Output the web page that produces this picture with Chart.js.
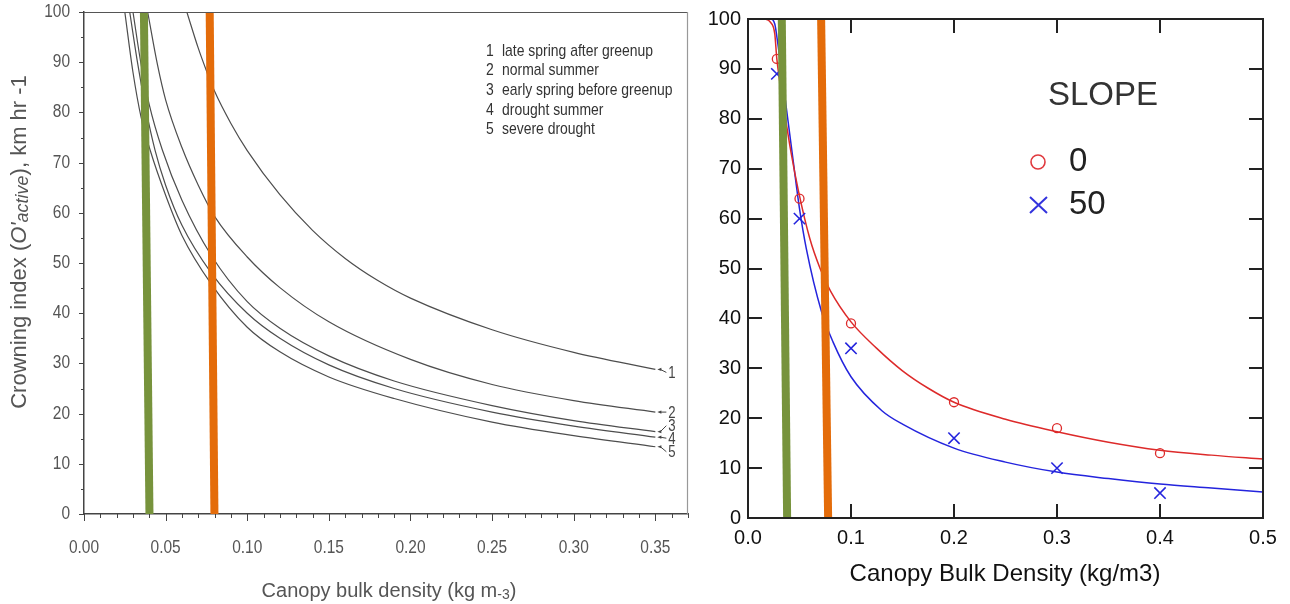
<!DOCTYPE html>
<html>
<head>
<meta charset="utf-8">
<script src="https://cdn.jsdelivr.net/npm/chart.js@4.4.1/dist/chart.umd.min.js"></script>
<style>
  html, body { margin: 0; padding: 0; background: #fff; }
  #wrap { position: relative; width: 1290px; height: 604px; overflow: hidden; }
  canvas { position: absolute; top: 0; }
  #left { left: 0; }
  #right { left: 700px; }
</style>
</head>
<body>
<div id="wrap">
  <canvas id="left" width="700" height="604"></canvas>
  <canvas id="right" width="590" height="604"></canvas>
</div>
<script>
// --- left panel: crowning index by fuel moisture scenario ---
const conditions = ['late spring after greenup', 'normal summer', 'early spring before greenup', 'drought summer', 'severe drought'];

const cbd1 = [0.063, 0.07, 0.075, 0.08, 0.09, 0.10, 0.12, 0.14, 0.16, 0.18, 0.20, 0.25, 0.30, 0.35];
const ci1  = [100, 92.8, 88.3, 84.2, 77.8, 72.4, 63.6, 56.5, 50.9, 46.5, 43, 36.7, 32.2, 28.8];
const cbd2 = [0.039, 0.045, 0.05, 0.06, 0.07, 0.08, 0.10, 0.12, 0.15, 0.20, 0.25, 0.30, 0.35];
const ci2  = [100, 89.5, 82.5, 73, 65.5, 59.3, 51.2, 45.1, 38.3, 30.8, 25.8, 22.6, 20.3];
const cbd3 = [0.030, 0.035, 0.04, 0.048, 0.06, 0.078, 0.10, 0.12, 0.15, 0.19, 0.25, 0.30, 0.35];
const ci3  = [100, 89.5, 81.5, 72.5, 62.5, 51.5, 42.3, 37, 31.5, 26.5, 21.6, 18.6, 16.4];
const cbd4 = [0.028, 0.033, 0.038, 0.0435, 0.05, 0.06, 0.078, 0.10, 0.12, 0.15, 0.19, 0.25, 0.30, 0.35];
const ci4  = [100, 89.5, 80.5, 72.5, 65.5, 57.5, 48, 40, 35, 29.7, 25, 20.3, 17.5, 15.3];
const cbd5 = [0.025, 0.03, 0.035, 0.0405, 0.05, 0.06, 0.078, 0.10, 0.12, 0.15, 0.19, 0.25, 0.30, 0.35];
const ci5  = [100, 88, 79, 72.5, 63.5, 55.5, 45.8, 37.2, 32.3, 27.3, 23, 18.3, 15.6, 13.4];

// the two marker lines drawn over the curves
const greenLeftX  = [0.0367, 0.0401];
const orangeLeftX = [0.0770, 0.0799];
const markerY = [100, 0];

const leftXTicks = [0, 0.05, 0.10, 0.15, 0.20, 0.25, 0.30, 0.35];
const leftYTicks = [0, 10, 20, 30, 40, 50, 60, 70, 80, 90, 100];

// --- right panel: observed and fitted values for two slopes ---
const slopeLabels = ['0', '50'];
const obsCbd     = [0.028, 0.05, 0.1, 0.2, 0.3, 0.4];
const obsSlope0  = [92, 64, 39, 23.2, 18, 13];
const obsSlope50 = [89, 60, 34, 16, 10, 5];

const fitCbd0 = [0, 0.015, 0.022, 0.026, 0.028, 0.035, 0.042, 0.049, 0.06, 0.07, 0.08, 0.1, 0.125, 0.15, 0.175, 0.2, 0.25, 0.3, 0.35, 0.4, 0.45, 0.5];
const fitCi0  = [100, 100, 99.3, 97, 92, 82, 73, 65.5, 56, 50, 45.5, 39.3, 34, 29.5, 26, 23.2, 19.8, 17.3, 15.2, 13.6, 12.6, 11.8];
const fitCbd50 = [0, 0.022, 0.026, 0.029, 0.033, 0.0367, 0.0436, 0.05, 0.0566, 0.0712, 0.0825, 0.1, 0.13, 0.15, 0.2, 0.25, 0.3, 0.35, 0.4, 0.45, 0.5];
const fitCi50  = [100, 100, 99, 95, 89, 83, 72, 62, 54, 41.5, 35.3, 28.3, 21.5, 18.8, 14, 11.2, 9.2, 7.9, 6.8, 6, 5.2];

const greenRightX  = [0.0328, 0.038];
const orangeRightX = [0.071, 0.0778];

const rightXTicks = [0, 0.1, 0.2, 0.3, 0.4, 0.5];
const rightYTicks = [0, 10, 20, 30, 40, 50, 60, 70, 80, 90, 100];

const REG = "'Liberation Sans', Arial, sans-serif";
const GREEN = '#77933c';
const ORANGE = '#e46c0a';

const pts = (xs, ys) => xs.map((x, i) => ({ x: x, y: ys[i] }));

function markerLine(xs, color) {
  return { data: pts(xs, markerY), showLine: true, borderColor: color, borderWidth: 8,
           pointRadius: 0, borderCapStyle: 'butt', order: 0 };
}

// condensed text (the left figure uses a narrow face)
function narrowText(ctx, text, x, y, align, sx) {
  ctx.save();
  ctx.translate(x, y);
  ctx.scale(sx || 0.82, 1);
  ctx.textAlign = align;
  ctx.fillText(text, 0, 0);
  ctx.restore();
}

// draws a run of text pieces with different fonts, centred on x
function drawPieces(ctx, pieces, cx, baseY) {
  let total = 0;
  pieces.forEach(p => { ctx.font = p.font; total += ctx.measureText(p.text).width; });
  let x = cx - total / 2;
  ctx.textAlign = 'left';
  ctx.textBaseline = 'alphabetic';
  pieces.forEach(p => {
    ctx.font = p.font;
    ctx.fillText(p.text, x, baseY + (p.dy || 0));
    x += ctx.measureText(p.text).width;
  });
}

// ---------------- left chart ----------------
const leftCurves = [[cbd1, ci1], [cbd2, ci2], [cbd3, ci3], [cbd4, ci4], [cbd5, ci5]];

const leftDecor = {
  id: 'leftDecor',
  afterDraw(chart) {
    const ctx = chart.ctx, a = chart.chartArea;
    const xs = chart.scales.x, ys = chart.scales.y;
    ctx.save();
    // frame top / right
    ctx.lineWidth = 1.2;
    ctx.strokeStyle = '#555';
    ctx.beginPath(); ctx.moveTo(a.left, a.top + 0.5); ctx.lineTo(a.right, a.top + 0.5); ctx.stroke();
    ctx.strokeStyle = '#999';
    ctx.beginPath(); ctx.moveTo(a.right - 0.5, a.top); ctx.lineTo(a.right - 0.5, a.bottom); ctx.stroke();

    // major and minor ticks
    ctx.strokeStyle = '#444';
    ctx.lineWidth = 1;
    for (let i = 0; i <= 37; i++) {
      const px = Math.round(xs.getPixelForValue(i / 100)) + 0.5;
      const len = i % 5 === 0 ? 7 : 4;
      ctx.beginPath(); ctx.moveTo(px, a.bottom); ctx.lineTo(px, a.bottom + len); ctx.stroke();
    }
    for (let i = 0; i <= 20; i++) {
      const py = Math.round(ys.getPixelForValue(i * 5)) + 0.5;
      const len = i % 2 === 0 ? 5 : 3;
      ctx.beginPath(); ctx.moveTo(a.left, py); ctx.lineTo(a.left - len, py); ctx.stroke();
    }

    // tick labels
    ctx.fillStyle = '#555';
    ctx.font = '18px ' + REG;
    ctx.textBaseline = 'middle';
    leftXTicks.forEach(v => narrowText(ctx, v.toFixed(2), xs.getPixelForValue(v), 548, 'center', 0.86));
    leftYTicks.forEach(v => narrowText(ctx, String(v), 70, ys.getPixelForValue(v), 'right', 0.86));

    // legend of scenarios
    ctx.font = '17px ' + REG;
    ctx.fillStyle = '#333';
    conditions.forEach((c, i) => {
      const y = 51 + i * 19.7;
      narrowText(ctx, String(i + 1), 486, y, 'left');
      narrowText(ctx, c, 502, y, 'left');
    });

    // numbered arrows at the curve ends
    const offs = [3, 0, -6, 1, 5];
    ctx.font = '16px ' + REG;
    ctx.fillStyle = '#444';
    ctx.strokeStyle = '#444';
    leftCurves.forEach(([cx, cy], i) => {
      const px = xs.getPixelForValue(cx[cx.length - 1]);
      const py = ys.getPixelForValue(cy[cy.length - 1]);
      const tx = px + 11, ty = py + offs[i];
      ctx.beginPath(); ctx.moveTo(px + 5, py); ctx.lineTo(tx, ty); ctx.stroke();
      ctx.beginPath();
      ctx.moveTo(px + 2, py); ctx.lineTo(px + 6, py - 1.6); ctx.lineTo(px + 6, py + 1.6);
      ctx.closePath(); ctx.fill();
      narrowText(ctx, String(i + 1), px + 13, ty + 1, 'left');
    });

    // axis titles
    ctx.fillStyle = '#555';
    drawPieces(ctx, [
      { text: 'Canopy bulk density (kg m', font: '20px ' + REG },
      { text: '-3', font: '14px ' + REG, dy: 2 },
      { text: ')', font: '20px ' + REG }
    ], 389, 597);

    ctx.translate(26, 242);
    ctx.rotate(-Math.PI / 2);
    drawPieces(ctx, [
      { text: 'Crowning index (', font: '22px ' + REG },
      { text: "O'", font: 'italic 22px ' + REG },
      { text: 'active', font: 'italic 18px ' + REG, dy: 2 },
      { text: '), km hr -1', font: '22px ' + REG }
    ], 0, 0);
    ctx.restore();
  }
};

new Chart(document.getElementById('left'), {
  type: 'scatter',
  data: {
    datasets: leftCurves.map(([xs, ys]) => ({
      data: pts(xs, ys), showLine: true, borderColor: '#4d4d4d', borderWidth: 1.2,
      pointRadius: 0, cubicInterpolationMode: 'monotone', order: 2
    })).concat([markerLine(greenLeftX, GREEN), markerLine(orangeLeftX, ORANGE)])
  },
  options: {
    responsive: false,
    animation: false,
    layout: { padding: { top: 12, right: 12, left: 0, bottom: 0 } },
    plugins: { legend: { display: false }, tooltip: { enabled: false } },
    scales: {
      x: {
        type: 'linear', min: 0, max: 0.37,
        grid: { display: false, drawTicks: false },
        border: { display: true, color: '#444', width: 1.5 },
        afterFit: s => { s.height = 90; },
        ticks: { display: false }
      },
      y: {
        min: 0, max: 100,
        grid: { display: false, drawTicks: false },
        border: { display: true, color: '#444', width: 1.5 },
        afterFit: s => { s.width = 84; },
        ticks: { display: false }
      }
    }
  },
  plugins: [leftDecor]
});

// ---------------- right chart ----------------
const rightDecor = {
  id: 'rightDecor',
  afterDraw(chart) {
    const ctx = chart.ctx, a = chart.chartArea;
    const xs = chart.scales.x, ys = chart.scales.y;
    ctx.save();
    ctx.strokeStyle = '#222';
    ctx.lineWidth = 2;
    ctx.strokeRect(a.left, a.top, a.right - a.left, a.bottom - a.top);
    // inward ticks on all four sides
    const len = 14;
    rightXTicks.slice(1, -1).forEach(v => {
      const px = Math.round(xs.getPixelForValue(v));
      ctx.beginPath(); ctx.moveTo(px, a.top); ctx.lineTo(px, a.top + len); ctx.stroke();
      ctx.beginPath(); ctx.moveTo(px, a.bottom); ctx.lineTo(px, a.bottom - len); ctx.stroke();
    });
    rightYTicks.slice(1, -1).forEach(v => {
      const py = Math.round(ys.getPixelForValue(v));
      ctx.beginPath(); ctx.moveTo(a.left, py); ctx.lineTo(a.left + len, py); ctx.stroke();
      ctx.beginPath(); ctx.moveTo(a.right, py); ctx.lineTo(a.right - len, py); ctx.stroke();
    });

    // legend
    ctx.fillStyle = '#333';
    ctx.font = '33px ' + REG;
    ctx.textAlign = 'left';
    ctx.textBaseline = 'middle';
    ctx.fillText('SLOPE', 348, 96);
    const rows = [162, 205];
    ctx.fillStyle = '#222';
    slopeLabels.forEach((t, i) => ctx.fillText(t, 369, rows[i]));
    ctx.lineWidth = 1.6;
    ctx.strokeStyle = '#e0393e';
    ctx.beginPath(); ctx.arc(338, rows[0], 7, 0, Math.PI * 2); ctx.stroke();
    ctx.strokeStyle = '#3333dd';
    ctx.lineWidth = 2;
    ctx.beginPath();
    ctx.moveTo(330, rows[1] - 8); ctx.lineTo(347, rows[1] + 8);
    ctx.moveTo(347, rows[1] - 8); ctx.lineTo(330, rows[1] + 8);
    ctx.stroke();

    // x title
    ctx.fillStyle = '#111';
    ctx.font = '24px ' + REG;
    ctx.textAlign = 'center';
    ctx.textBaseline = 'middle';
    ctx.fillText('Canopy Bulk Density (kg/m3)', 305, 574);
    ctx.restore();
  }
};

new Chart(document.getElementById('right'), {
  type: 'scatter',
  data: {
    datasets: [
      { data: pts(fitCbd0, fitCi0), showLine: true, borderColor: '#dd2a2a', borderWidth: 1.5,
        pointRadius: 0, cubicInterpolationMode: 'monotone', order: 3 },
      { data: pts(fitCbd50, fitCi50), showLine: true, borderColor: '#2424dd', borderWidth: 1.5,
        pointRadius: 0, cubicInterpolationMode: 'monotone', order: 3 },
      { data: pts(obsCbd, obsSlope0), pointStyle: 'circle', pointRadius: 4.5, pointBorderWidth: 1.3,
        borderColor: '#dd2a2a', backgroundColor: 'rgba(0,0,0,0)', order: 2 },
      { data: pts(obsCbd, obsSlope50), pointStyle: 'crossRot', pointRadius: 8, pointBorderWidth: 1.6,
        borderColor: '#2424dd', backgroundColor: 'rgba(0,0,0,0)', order: 2 },
      markerLine(greenRightX, GREEN),
      markerLine(orangeRightX, ORANGE)
    ]
  },
  options: {
    responsive: false,
    animation: false,
    layout: { padding: { top: 15, right: 27, left: 0, bottom: 0 } },
    plugins: { legend: { display: false }, tooltip: { enabled: false } },
    scales: {
      x: {
        type: 'linear', min: 0, max: 0.5,
        grid: { display: false, drawTicks: false },
        border: { display: false },
        afterBuildTicks: s => { s.ticks = rightXTicks.map(v => ({ value: v })); },
        afterFit: s => { s.height = 86; },
        ticks: { padding: 8, color: '#111', font: { family: REG, size: 20 },
                 maxRotation: 0, callback: v => v.toFixed(1) }
      },
      y: {
        min: 0, max: 100,
        grid: { display: false, drawTicks: false },
        border: { display: false },
        afterBuildTicks: s => { s.ticks = rightYTicks.map(v => ({ value: v })); },
        afterFit: s => { s.width = 48; },
        ticks: { padding: 7, color: '#111', font: { family: REG, size: 20 } }
      }
    }
  },
  plugins: [rightDecor]
});
</script>
</body>
</html>
